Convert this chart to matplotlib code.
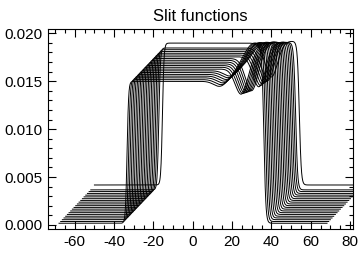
import numpy as np
import matplotlib
matplotlib.use("Agg")
import matplotlib.pyplot as plt
from matplotlib.ticker import MultipleLocator, FormatStrFormatter

plt.rcParams["font.family"] = ["Liberation Sans", "DejaVu Sans"]
plt.rcParams["axes.unicode_minus"] = False

# waterfall offsets of each slit function, front (bottom) to back (top)
X_SHIFT = [0.0, 0.85, 1.7, 2.55, 3.4, 4.25, 5.1, 5.95, 6.8, 7.65, 8.5,
           9.35, 10.2, 11.05, 11.9, 12.75, 13.6, 14.45, 15.3, 16.15, 18.0]
Y_SHIFT = [0.00018, 0.00036, 0.00055, 0.00073, 0.00091, 0.00110, 0.00128,
           0.00146, 0.00165, 0.00183, 0.00201, 0.00219, 0.00238, 0.00256,
           0.00274, 0.00293, 0.00311, 0.00329, 0.00348, 0.00366, 0.00417]

# shape of each slit function (in its own coordinates)
PLATEAU = 0.0148
RISE_AT = -33.4
FALL_AT = 36.2
RISE_WIDTH = 0.8
FALL_WIDTH = 1.0
X_RANGE = (-68.0, 68.3)
CREST_AT = 31.5
CREST_WIDTH = 9.0
DIP_WIDTH = 4.5
CREST_HEIGHT = [0.0040, 0.0038, 0.0036, 0.0035, 0.0033, 0.0031, 0.0029,
                0.0028, 0.0026, 0.0024, 0.0022, 0.0021, 0.0019, 0.0017,
                0.0015, 0.0013, 0.0012, 0.0010, 0.0008, 0.0006, 0.0002]
DIP_AT = [14, 14, 14, 14, 14, 14, 14,
          19, 19, 19, 19, 19, 19, 19,
          22, 22, 22, 22, 22, 22, 22]
DIP_DEPTH = [0.0006, 0.0006, 0.0006, 0.0006, 0.0006, 0.0006, 0.0006,
             0.0030, 0.0031, 0.0032, 0.0033, 0.0034, 0.0035, 0.0036,
             0.0036, 0.0036, 0.0036, 0.0036, 0.0036, 0.0036, 0.0036]


def slitShape(x, crest, dipAt, dipDepth):
    rise = 0.5 * (1 + np.tanh((x - RISE_AT) / RISE_WIDTH))
    fall = 0.5 * (1 - np.tanh((x - FALL_AT) / FALL_WIDTH))
    top = (PLATEAU
           + crest * np.exp(-((x - CREST_AT) / CREST_WIDTH) ** 2)
           - dipDepth * np.exp(-((x - dipAt) / DIP_WIDTH) ** 2))
    return top * rise * fall


fig = plt.figure(figsize=(3.6, 2.56), dpi=100)
ax = fig.add_axes([48 / 360, 1 - 229 / 256, 305 / 360, 200 / 256])

x = np.linspace(X_RANGE[0], X_RANGE[1], 1500)
for dx, dy, crest, dipAt, dipDepth in zip(X_SHIFT, Y_SHIFT, CREST_HEIGHT,
                                          DIP_AT, DIP_DEPTH):
    ax.plot(x + dx, slitShape(x, crest, dipAt, dipDepth) + dy,
            color="black", lw=0.7)

ax.set_xlim(-73.6, 81.5)
ax.set_ylim(-0.00042, 0.02044)
ax.xaxis.set_major_locator(MultipleLocator(20))
ax.xaxis.set_minor_locator(MultipleLocator(5))
ax.yaxis.set_major_locator(MultipleLocator(0.005))
ax.yaxis.set_minor_locator(MultipleLocator(0.001))
ax.yaxis.set_major_formatter(FormatStrFormatter("%.3f"))
ax.tick_params(which="both", direction="in", top=True, right=True,
               labelsize=11, width=0.8)
ax.tick_params(which="major", length=6, pad=4)
ax.tick_params(which="minor", length=3)
for spine in ax.spines.values():
    spine.set_linewidth(0.8)
ax.set_title("Slit functions", fontsize=12, pad=6)

fig.savefig("out.png", dpi=100)
